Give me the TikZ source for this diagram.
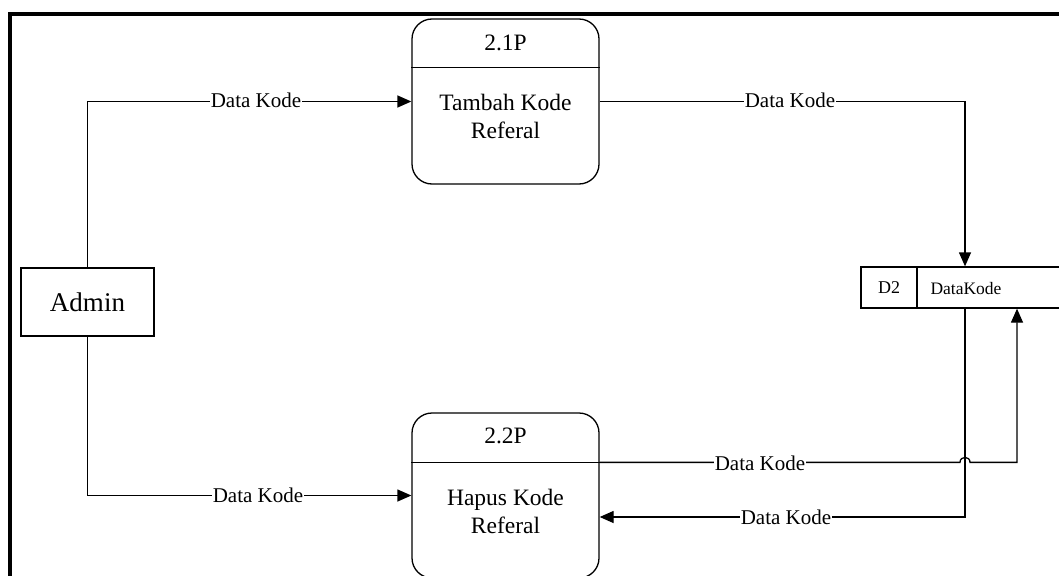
\documentclass[tikz,border=0pt]{standalone}
\usepackage{fontspec}
\setmainfont{Liberation Serif}
\usetikzlibrary{arrows.meta,positioning}
\begin{document}
\begin{tikzpicture}[x=1pt,y=-1pt,line width=1.3pt,
  proc/.style={draw, rounded corners=20pt, minimum width=187pt, minimum height=165pt, inner sep=0pt},
  ptext/.style={font=\fontsize{23.5}{28}\selectfont, align=center},
  lbl/.style={fill=white, inner sep=1pt, font=\fontsize{21}{24}\selectfont},
  flow/.style={-{Triangle[length=14pt,width=12pt]}}]
  \useasboundingbox (0,0) rectangle (1059,575);
  \clip (0,0) rectangle (1059,575);
  % frame
  \draw[line width=4pt] (10.3,590) -- (10.3,14.2) -- (1070,14.2);
  % entity
  \node[draw, minimum width=133pt, minimum height=68pt, font=\fontsize{27}{30}\selectfont] (admin) at (87.5,302) {Admin};
  % processes
  \node[proc] (p1) at (505.5,101.5) {};
  \node[ptext] (p1id) at (505.5,43) {2.1P};
  \node[ptext] (p1name) at (505.5,116) {Tambah Kode\\Referal};
  \draw ([yshift=-49pt]p1.north west) -- ([yshift=-49pt]p1.north east);
  \node[proc] (p2) at (505.5,495.5) {};
  \node[ptext] (p2id) at (505.5,436) {2.2P};
  \node[ptext] (p2name) at (505.5,511) {Hapus Kode\\Referal};
  \draw ([yshift=-50pt]p2.north west) -- ([yshift=-50pt]p2.north east);
  % data store
  \node[draw, minimum width=208pt, minimum height=41pt, inner sep=0pt] (d2) at (965,287.5) {};
  \node[draw, minimum width=56pt, minimum height=41pt, inner sep=0pt, anchor=west, font=\fontsize{18}{20}\selectfont] (d2id) at (d2.west) {D2};
  \node[font=\fontsize{17.5}{20}\selectfont] (d2name) at (966,289) {DataKode};
  % flows
  \draw[flow] (admin.north) |- (p1.west);
  \draw[flow] (admin.south) |- (p2.west);
  \draw[flow] (p1.east) -| (d2.north);
  \coordinate (out2) at ([yshift=-50pt]p2.north east);
  \coordinate (hop) at (d2.south |- out2);
  \coordinate (d2in) at ([xshift=52pt]d2.south);
  \draw[flow] (out2) -- ([xshift=-5pt]hop) .. controls ([xshift=-5pt,yshift=6.6pt]hop) and ([xshift=5pt,yshift=6.6pt]hop) .. ([xshift=5pt]hop) -| (d2in);
  \draw[flow] (d2.south) |- ([yshift=-21.5pt]p2.east);
  % labels
  \node[lbl] (l1) at (256,100) {Data Kode};
  \node[lbl] (l2) at (790,100) {Data Kode};
  \node[lbl] (l3) at (258,495) {Data Kode};
  \node[lbl] (l4) at (760,463) {Data Kode};
  \node[lbl] (l5) at (786,517) {Data Kode};
\end{tikzpicture}
\end{document}
